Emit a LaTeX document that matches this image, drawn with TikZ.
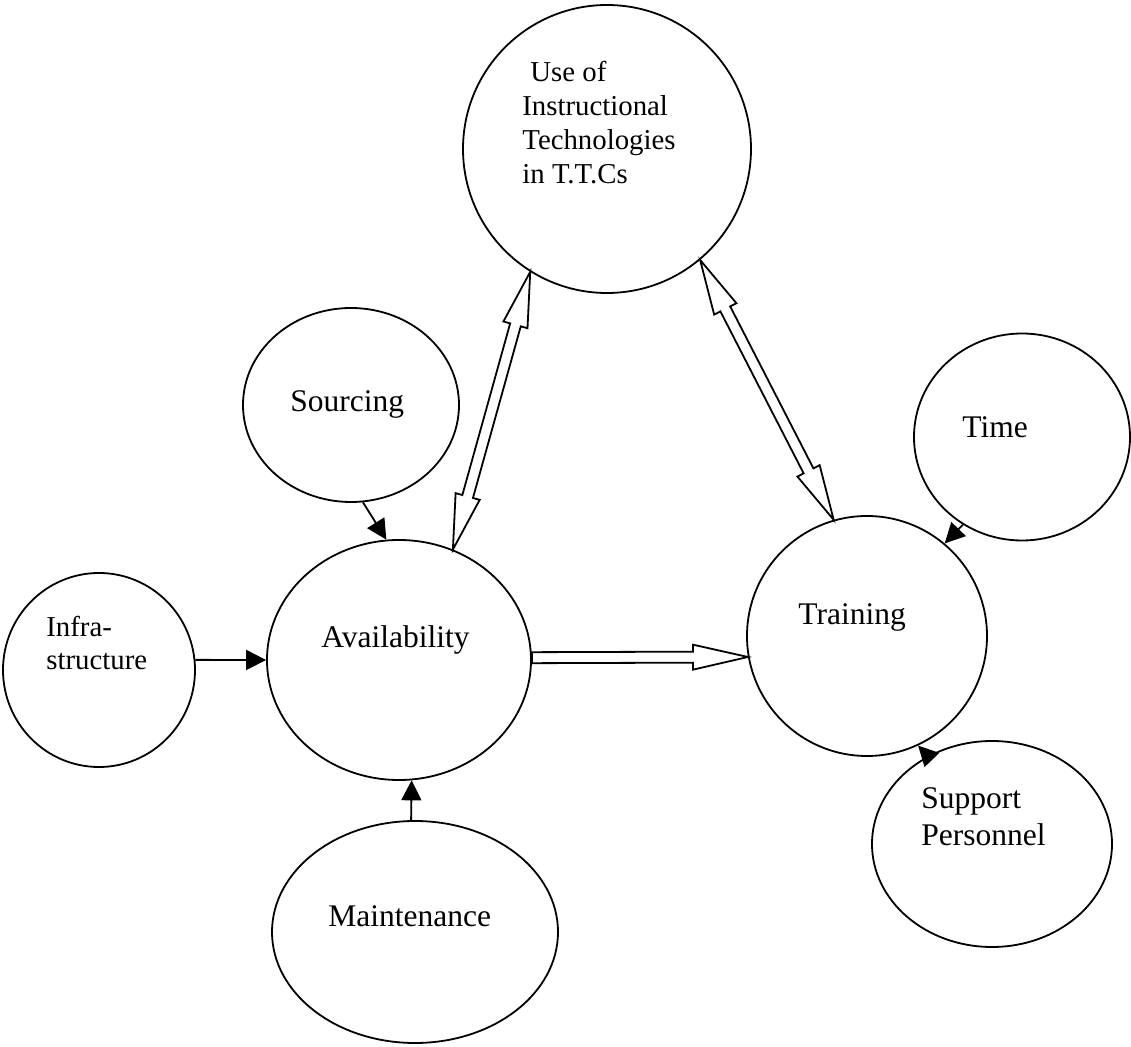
\documentclass[tikz,border=0pt]{standalone}
\usepackage{fontspec}
\setmainfont{Liberation Serif}
\usetikzlibrary{shapes.geometric,arrows.meta,calc}
\newcommand\fsz{\fontsize{15.75}{17}\selectfont}
\newcommand\fszs{\fontsize{14.4}{16.6}\selectfont}
\newcommand\mline[2][1]{{\renewcommand\arraystretch{#1}\begin{tabular}[t]{@{}l@{}}#2\end{tabular}}}
% hollow arrow with head at #2 only
\newcommand\sglarrow[2]{%
 \draw[harrow] ($(#1)!2.75pt!90:(#2)$)
  -- ($(#2)!27.5pt!(#1)!2.75pt!-90:(#1)$)
  -- ($(#2)!27.5pt!(#1)!6.25pt!-90:(#1)$)
  -- (#2)
  -- ($(#2)!27.5pt!(#1)!6.25pt!90:(#1)$)
  -- ($(#2)!27.5pt!(#1)!2.75pt!90:(#1)$)
  -- ($(#1)!2.75pt!-90:(#2)$)
  -- cycle;}
% hollow arrow with heads at both ends
\newcommand\dblarrow[2]{%
 \draw[harrow] (#1)
  -- ($(#1)!27.5pt!(#2)!6.25pt!90:(#2)$)
  -- ($(#1)!27.5pt!(#2)!2.75pt!90:(#2)$)
  -- ($(#2)!27.5pt!(#1)!2.75pt!-90:(#1)$)
  -- ($(#2)!27.5pt!(#1)!6.25pt!-90:(#1)$)
  -- (#2)
  -- ($(#2)!27.5pt!(#1)!6.25pt!90:(#1)$)
  -- ($(#2)!27.5pt!(#1)!2.75pt!90:(#1)$)
  -- ($(#1)!27.5pt!(#2)!2.75pt!-90:(#2)$)
  -- ($(#1)!27.5pt!(#2)!6.25pt!-90:(#2)$)
  -- cycle;}
\tikzset{
  bub/.style={ellipse, draw, line width=0.9pt, inner sep=0pt},
  txt/.style={anchor=base west, inner sep=0pt, font=\fsz},
  stxt/.style={anchor=base west, inner sep=0pt, font=\fszs},
  harrow/.style={draw, fill=white, line width=0.9pt, line join=miter},
  farrow/.style={draw, line width=0.9pt, -{Triangle[length=10pt,width=10pt]}}
}
\begin{document}
\begin{tikzpicture}[x=0.5pt,y=-0.5pt]
\useasboundingbox[fill=white] (0,0) rectangle (1131,1047);
% ellipses
\node[bub, minimum width=144pt, minimum height=144pt] (ttc)   at (607,149) {};
\node[bub, minimum width=108pt, minimum height=97pt]  (src)   at (351,405) {};
\node[bub, minimum width=132pt, minimum height=120pt] (avail) at (399,660) {};
\node[bub, minimum width=96pt,  minimum height=97pt]  (infra) at (99,670) {};
\node[bub, minimum width=143pt, minimum height=111pt] (maint) at (415,932) {};
\node[bub, minimum width=120pt, minimum height=120pt] (train) at (867,636) {};
\node[bub, minimum width=108pt, minimum height=103.5pt] (time) at (1022,437) {};
\node[bub, minimum width=120pt, minimum height=103pt] (supp)  at (992,844) {};
% texts
\node[stxt] (tttc) at (522,82) {\mline[1.015]{\hspace{4pt}Use of\\Instructional\\Technologies\\in T.T.Cs}};
\node[txt] (tsrc) at (290,412) {Sourcing};
\node[stxt] (tinfra) at (46,637) {\mline[0.964]{Infra-\\structure}};
\node[txt] (tavail) at (321,648) {Availability};
\node[txt] (tmaint) at (328,927) {Maintenance};
\node[txt] (ttrain) at (798,625) {Training};
\node[txt] (ttime) at (962,438) {Time};
\node[txt] (tsupp) at (921,809) {\mline[1.06]{Support\\Personnel}};
% filled arrows
\draw[farrow] (infra.6) -- (avail.180);
\draw[farrow] (src.-83.5) -- (avail.96.8);
\draw[farrow] (maint.92) -- (avail.-84.3);
\draw[farrow] (time.236.2) -- (train.50.6);
\draw[farrow] (supp.126.8) -- (train.-65);
% hollow arrows
\dblarrow{avail.64}{ttc.-122.5}
\dblarrow{train.106}{ttc.-50}
\sglarrow{avail.1}{train.190}
\end{tikzpicture}
\end{document}
